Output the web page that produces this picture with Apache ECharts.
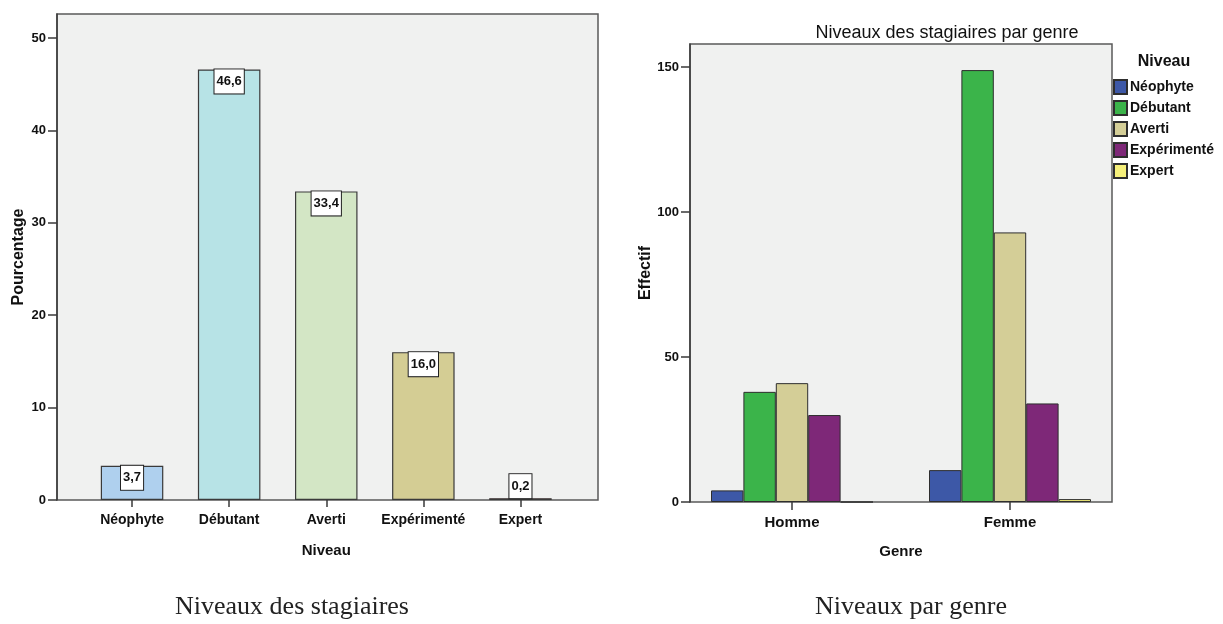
<!DOCTYPE html>
<html>
<head>
<meta charset="utf-8">
<script src="https://cdn.jsdelivr.net/npm/echarts@6/dist/echarts.min.js"></script>
<style>
html,body{margin:0;padding:0;background:#fff;}
#c{width:1223px;height:624px;}
</style>
</head>
<body>
<div id="c"></div>
<script>
// ---- Data ----
const niveaux = ['Néophyte', 'Débutant', 'Averti', 'Expérimenté', 'Expert'];
const pourcentages = [3.7, 46.6, 33.4, 16.0, 0.2];
const genres = ['Homme', 'Femme'];
const effNeophyte = [4, 11];
const effDebutant = [38, 149];
const effAverti = [41, 93];
const effExperimente = [30, 34];
const effExpert = [0, 1];
const pctTicks = [0, 10, 20, 30, 40, 50];
const effTicks = [0, 50, 100, 150];

const leftColors = ['#afd0ee', '#b7e3e6', '#d3e6c5', '#d4cd94', '#8e1b1b'];
const rightColors = ['#3d58a7', '#3bb44a', '#d4ce97', '#7e2878', '#f6f07a'];
const effSeries = [effNeophyte, effDebutant, effAverti, effExperimente, effExpert];

const SANS = '"Liberation Sans",Arial,sans-serif';
const SERIF = '"Liberation Serif","Times New Roman",serif';
const PLOTBG = '#f0f1f0';
const FRAME = '#5a5a5a';
const AX = '#3a3a3a';

const chart = echarts.init(document.getElementById('c'), null, {renderer: 'canvas'});

const fmt = v => v.toFixed(1).replace('.', ',');

const leftData = pourcentages.map((v, i) => ({
  value: v,
  itemStyle: {color: leftColors[i]},
  label: v < 3 ? {position: 'top', distance: 0} : {position: 'insideTop', distance: 0}
}));

const rightSeries = niveaux.map((n, i) => ({
  name: n,
  type: 'bar',
  xAxisIndex: 1, yAxisIndex: 1,
  data: effSeries[i],
  barWidth: 32.4,
  barGap: '0%',
  itemStyle: {color: rightColors[i], borderColor: '#2e2e2e', borderWidth: 1},
  emphasis: {disabled: true}
}));

const option = {
  animation: false,
  backgroundColor: '#fff',
  graphic: [
    {type: 'rect', z: -10, shape: {x: 57, y: 14, width: 541, height: 486},
     style: {fill: PLOTBG, stroke: FRAME, lineWidth: 1.5}},
    {type: 'rect', z: -10, shape: {x: 690, y: 44, width: 422, height: 458},
     style: {fill: PLOTBG, stroke: FRAME, lineWidth: 1.5}},
    {type: 'text', x: 947, y: 33, style: {text: 'Niveaux des stagiaires par genre', font: '18px ' + SANS, fill: '#111', textAlign: 'center', textVerticalAlign: 'middle'}},
    {type: 'text', x: 1164, y: 62, style: {text: 'Niveau', font: 'bold 16px ' + SANS, fill: '#111', textAlign: 'center', textVerticalAlign: 'middle'}},
    {type: 'text', x: 292, y: 607, style: {text: 'Niveaux des stagiaires', font: '26px ' + SERIF, fill: '#222', textAlign: 'center', textVerticalAlign: 'middle'}},
    {type: 'text', x: 911, y: 607, style: {text: 'Niveaux par genre', font: '26px ' + SERIF, fill: '#222', textAlign: 'center', textVerticalAlign: 'middle'}}
  ],
  legend: {
    orient: 'vertical',
    left: 1113, top: 79,
    itemWidth: 13, itemHeight: 14, itemGap: 5,
    padding: 0,
    icon: 'rect',
    data: niveaux,
    textStyle: {fontFamily: SANS, fontWeight: 'bold', fontSize: 14, color: '#111', padding: [0, 0, 0, -2]}
  },
  grid: [
    {left: 83.5, top: 14, width: 485.5, height: 486},
    {left: 683, top: 44, width: 436, height: 458}
  ],
  xAxis: [
    {
      type: 'category', gridIndex: 0, data: niveaux,
      axisLine: {show: false},
      axisTick: {show: true, alignWithLabel: true, length: 7, lineStyle: {color: AX, width: 1.5}},
      axisLabel: {interval: 0, margin: 13, fontFamily: SANS, fontWeight: 'bold', fontSize: 14, color: '#111'},
      name: 'Niveau', nameLocation: 'middle', nameGap: 43,
      nameTextStyle: {fontFamily: SANS, fontWeight: 'bold', fontSize: 15, color: '#111'}
    },
    {
      type: 'category', gridIndex: 1, data: genres,
      axisLine: {show: false},
      axisTick: {show: true, alignWithLabel: true, length: 8, lineStyle: {color: AX, width: 1.5}},
      axisLabel: {interval: 0, margin: 13, fontFamily: SANS, fontWeight: 'bold', fontSize: 15, color: '#111'},
      name: 'Genre', nameLocation: 'middle', nameGap: 42,
      nameTextStyle: {fontFamily: SANS, fontWeight: 'bold', fontSize: 15, color: '#111'}
    }
  ],
  yAxis: [
    {
      type: 'value', gridIndex: 0, min: pctTicks[0], max: 52.6, interval: pctTicks[1] - pctTicks[0],
      offset: 26.5,
      axisLine: {show: true, lineStyle: {color: AX, width: 1.5}},
      axisTick: {show: true, length: 9, customValues: pctTicks, lineStyle: {color: AX, width: 1.5}},
      axisLabel: {margin: 11, customValues: pctTicks, fontFamily: SANS, fontWeight: 'bold', fontSize: 13, color: '#111'},
      splitLine: {show: false},
      name: 'Pourcentage', nameLocation: 'middle', nameGap: 30, nameRotate: 90,
      nameTextStyle: {fontFamily: SANS, fontWeight: 'bold', fontSize: 16, color: '#111'}
    },
    {
      type: 'value', gridIndex: 1, min: effTicks[0], max: 158, interval: effTicks[1] - effTicks[0],
      offset: -7,
      axisLine: {show: true, lineStyle: {color: AX, width: 1.5}},
      axisTick: {show: true, length: 9, customValues: effTicks, lineStyle: {color: AX, width: 1.5}},
      axisLabel: {margin: 11, customValues: effTicks, fontFamily: SANS, fontWeight: 'bold', fontSize: 13, color: '#111'},
      splitLine: {show: false},
      name: 'Effectif', nameLocation: 'middle', nameGap: 32, nameRotate: 90,
      nameTextStyle: {fontFamily: SANS, fontWeight: 'bold', fontSize: 16, color: '#111'}
    }
  ],
  series: [
    {
      type: 'bar', xAxisIndex: 0, yAxisIndex: 0,
      data: leftData,
      barWidth: 62.5,
      itemStyle: {borderColor: '#3a3a3a', borderWidth: 1.2},
      emphasis: {disabled: true},
      label: {
        show: true,
        formatter: p => fmt(p.value),
        fontFamily: SANS, fontWeight: 'bold', fontSize: 13, lineHeight: 14,
        color: '#111', backgroundColor: '#fff', borderColor: '#222', borderWidth: 1,
        padding: [5, 2, 5, 2]
      }
    }
  ].concat(rightSeries)
};

chart.setOption(option);
</script>
</body>
</html>
